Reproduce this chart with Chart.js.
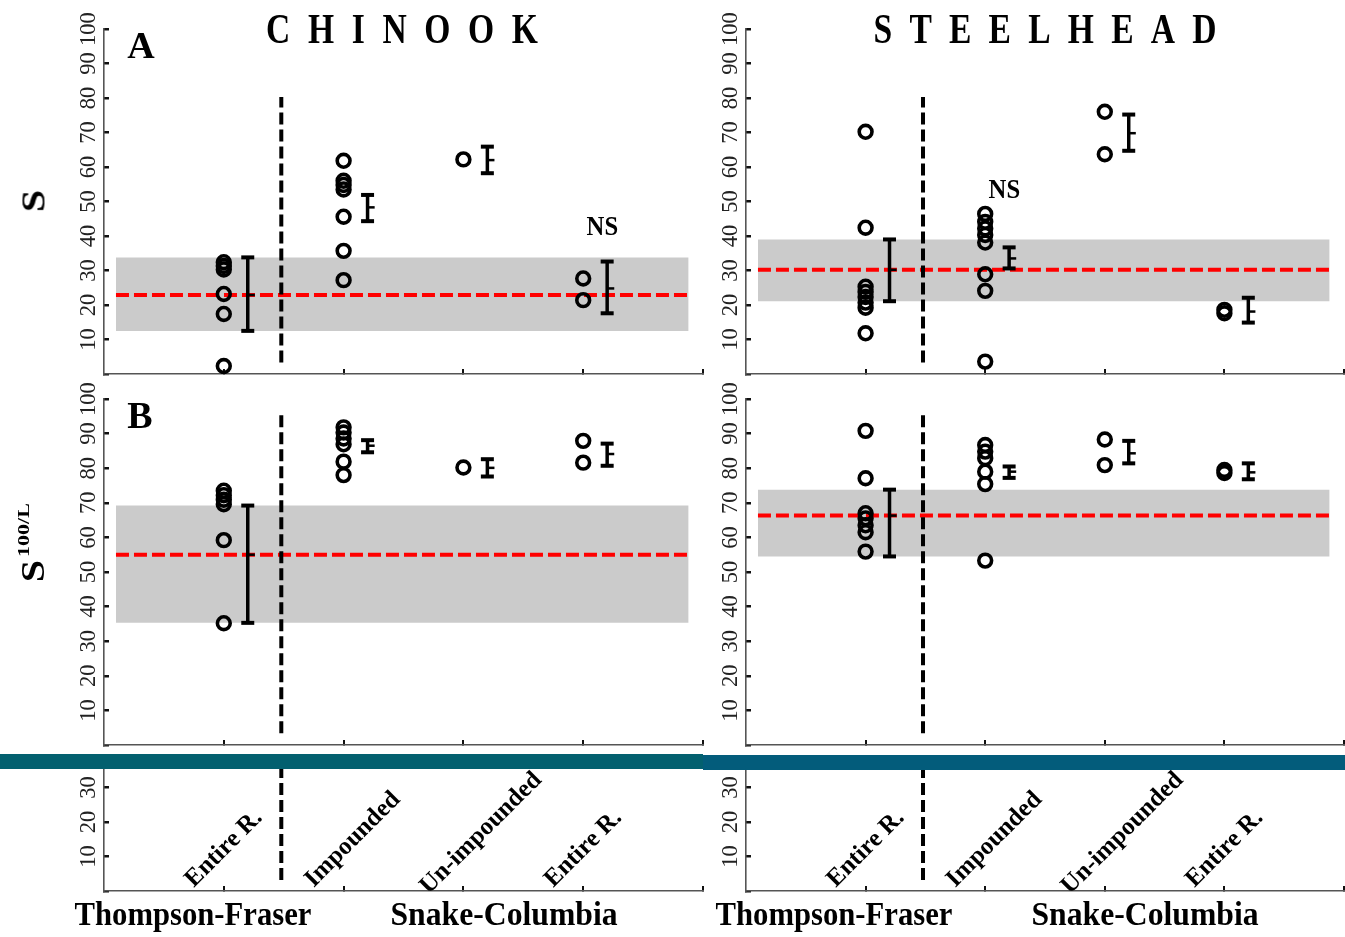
<!DOCTYPE html>
<html>
<head>
<meta charset="utf-8">
<script src="https://cdn.jsdelivr.net/npm/chart.js@4.4.1/dist/chart.umd.min.js"></script>
<style>
  body { margin: 0; background: #fff; }
  #fig { position: relative; width: 1345px; height: 937px; overflow: hidden; background: #fff; }
  #fig canvas { position: absolute; }
  .lbl { position: absolute; white-space: nowrap; line-height: 1; color: #000;
         font-family: "Liberation Serif", "Times New Roman", serif; font-weight: bold; }
  .bar { position: absolute; height: 15px; }
</style>
</head>
<body>
<div id="fig">
  <canvas id="chinookA" width="705" height="378" style="left:0;top:0"></canvas>
  <canvas id="steelheadA" width="640" height="378" style="left:705px;top:0"></canvas>
  <canvas id="chinookB" width="705" height="376" style="left:0;top:378px"></canvas>
  <canvas id="steelheadB" width="640" height="376" style="left:705px;top:378px"></canvas>
  <canvas id="chinookC" width="705" height="168" style="left:0;top:769px"></canvas>
  <canvas id="steelheadC" width="640" height="168" style="left:705px;top:769px"></canvas>
  <div class="bar" style="left:0;top:754px;width:703px;background:#03606f"></div>
  <div class="bar" style="left:703px;top:755px;width:642px;background:#035c7b"></div>
</div>
<script>
// x categories (positions 1..4 on the x axis)
const siteLabels = ['Entire R.', 'Impounded', 'Un-impounded', 'Entire R.'];
const riverGroups = ['Thompson-Fraser', 'Snake-Columbia'];
const yTicksFull = [0, 10, 20, 30, 40, 50, 60, 70, 80, 90, 100];
const yTicksCut = [0, 10, 20, 30];
const siteTicks = [1, 2, 3, 4, 5];

// Panel A : S, chinook
const chinookS = [
  [32.4, 31.3, 30.3, 23.2, 17.4, 2.3],
  [61.8, 56.0, 54.8, 53.5, 45.6, 35.7, 27.2],
  [62.2],
  [27.7, 21.4]
];
const chinookSMean = [22.9, 48.3, 62.0, 24.8];
const chinookSLow  = [12.5, 44.3, 58.2, 17.6];
const chinookSHigh = [33.8, 51.9, 65.9, 32.6];

// Panel A : S, steelhead
const steelheadS = [
  [70.2, 42.4, 25.3, 23.8, 22.3, 20.7, 19.2, 11.8],
  [46.4, 44.1, 42.2, 40.3, 38.1, 28.9, 24.1, 3.6],
  [76.0, 63.7],
  [18.6, 17.6]
];
const steelheadSMean = [30.2, 33.5, 69.8, 18.1];
const steelheadSLow  = [21.1, 30.6, 64.7, 14.9];
const steelheadSHigh = [39.0, 36.7, 75.2, 22.1];

// Panel B : S^100/L, chinook
const chinookS100 = [
  [73.5, 72.2, 70.9, 69.6, 59.2, 35.2],
  [91.8, 90.3, 88.6, 86.9, 81.9, 78.0],
  [80.2],
  [87.9, 81.6]
];
const chinookS100Mean = [55.0, 86.5, 80.1, 84.1];
const chinookS100Low  = [35.3, 84.6, 77.6, 80.7];
const chinookS100High = [69.2, 88.1, 82.6, 87.1];

// Panel B : S^100/L, steelhead
const steelheadS100 = [
  [90.8, 77.1, 67.0, 65.5, 63.5, 61.5, 55.9],
  [86.7, 84.8, 82.9, 79.0, 75.4, 53.3],
  [88.3, 80.9],
  [79.5, 78.6]
];
const steelheadS100Mean = [66.3, 79.0, 84.3, 78.8];
const steelheadS100Low  = [54.5, 77.2, 81.4, 76.8];
const steelheadS100High = [73.8, 80.5, 87.9, 81.4];

// vertical divider between the two rivers (y from, y to)
const dividerA = [3.3, 80.3];
const dividerB = [3.4, 95.5];
const dividerC = [3.2, 96];

const serif = '"Liberation Serif", "Times New Roman", serif';

// where the slanted site names start, relative to their tick
const labelShift = [-0.25, -0.25, -0.29, -0.25];
const labelBase = [0.9, 0.9, -1.1, 0.9];

function siteNotes() {
  return siteLabels.map((s, i) => ({ text: s, x: i + 1 + labelShift[i], y: labelBase[i], size: 25,
    rot: -Math.PI / 4, align: 'left', base: 'alphabetic' }));
}

// text placed in data coordinates, keyed by canvas id
const notes = {
  chinookA: [{ text: 'NS', x: 4.16, y: 42.3, size: 28, sx: 0.88 }],
  steelheadA: [{ text: 'NS', x: 2.16, y: 53.0, size: 28, sx: 0.88 }],
  chinookC: siteNotes(),
  steelheadC: siteNotes()
};

const notePlugin = {
  id: 'notes',
  afterDatasetsDraw(chart) {
    const items = notes[chart.canvas.id];
    if (!items) return;
    const ctx = chart.ctx;
    const xs = chart.scales.x, ys = chart.scales.y;
    items.forEach(n => {
      ctx.save();
      ctx.translate(xs.getPixelForValue(n.x), ys.getPixelForValue(n.y));
      ctx.rotate(n.rot || 0);
      ctx.scale(n.sx || 1, 1);
      ctx.font = 'bold ' + n.size + 'px ' + serif;
      ctx.fillStyle = '#000';
      ctx.textAlign = n.align || 'center';
      ctx.textBaseline = n.base || 'middle';
      ctx.fillText(n.text, 0, 0);
      ctx.restore();
    });
  }
};
Chart.register(notePlugin);

function buildDatasets(vals, mean, low, high, divider) {
  let ds = [];
  if (vals) {
    // grey band and red line = Thompson-Fraser interval and mean
    ds.push({ data: [{ x: 0.1, y: low[0] }, { x: 4.88, y: low[0] }], borderWidth: 0, pointRadius: 0, fill: false, order: 10 });
    ds.push({ data: [{ x: 0.1, y: high[0] }, { x: 4.88, y: high[0] }], borderWidth: 0, pointRadius: 0,
              fill: '-1', backgroundColor: '#cbcbcb', order: 10 });
    ds.push({ data: [{ x: 0.1, y: mean[0] }, { x: 4.88, y: mean[0] }], borderColor: '#ff0000', borderWidth: 4,
              borderDash: [13, 5], pointRadius: 0, order: 8 });
  }
  ds.push({ data: [{ x: 1.48, y: divider[0] }, { x: 1.48, y: divider[1] }], borderColor: '#000', borderWidth: 4,
            borderDash: [12, 5], pointRadius: 0, order: 7 });
  if (vals) {
    vals.forEach(function (arr, i) {
      ds.push({ data: [{ x: i + 1.2, y: low[i] }, { x: i + 1.2, y: high[i] }], borderColor: '#000', borderWidth: 3.5,
                pointStyle: 'line', pointRadius: 6.5, pointBorderWidth: 4, pointBorderColor: '#000', order: 3 });
    });
    ds.push({ data: mean.map((m, i) => ({ x: i + 1.23, y: m })), showLine: false, pointStyle: 'line',
              pointRadius: 3.5, pointBorderWidth: 2.5, pointBorderColor: '#000', order: 2 });
    let pts = [];
    vals.forEach(function (arr, i) {
      arr.forEach(v => pts.push({ x: i + 1, y: v }));
    });
    ds.push({ data: pts, showLine: false, pointStyle: 'circle', pointRadius: 6.4, pointBorderWidth: 3.6,
              pointBorderColor: '#000', pointBackgroundColor: 'rgba(0,0,0,0)', order: 1 });
  }
  return ds;
}

function makePanel(id, p) {
  const canvas = document.getElementById(id);
  const w = canvas.width, h = canvas.height;
  return new Chart(canvas, {
    type: 'line',
    data: { datasets: buildDatasets(p.vals, p.mean, p.low, p.high, p.divider) },
    options: {
      responsive: false,
      animation: false,
      devicePixelRatio: 1,
      events: [],
      layout: { autoPadding: false, padding: { left: 0, top: p.top, right: w - p.right, bottom: h - p.bottom } },
      plugins: { legend: { display: false }, tooltip: { enabled: false } },
      scales: {
        x: {
          type: 'linear', min: 0, max: 5,
          afterBuildTicks: s => { s.ticks = siteTicks.map(v => ({ value: v })); },
          ticks: { display: false },
          grid: { drawOnChartArea: false, tickLength: -5, color: '#111', lineWidth: 2 },
          border: { color: '#555', width: 1.6 },
          afterFit: s => { s.height = 0; s.paddingLeft = 0; s.paddingRight = 0; }
        },
        y: {
          type: 'linear', min: 0, max: p.yMax,
          afterBuildTicks: s => { s.ticks = p.yTicks.map(v => ({ value: v })); },
          ticks: {
            autoSkip: false, minRotation: 90, maxRotation: 90, crossAlign: 'center',
            padding: p.pad, color: '#222', font: { family: serif, size: 22.5 },
            callback: v => (v === 0 ? '' : String(v))
          },
          grid: { drawOnChartArea: false, tickLength: -5, color: '#111', lineWidth: 2.5 },
          border: { color: '#555', width: 1.6 },
          afterFit: s => { s.width = p.left; s.paddingTop = 0; s.paddingBottom = 0; }
        }
      }
    }
  });
}

makePanel('chinookA', { vals: chinookS, mean: chinookSMean, low: chinookSLow, high: chinookSHigh, divider: dividerA,
  left: 104, top: 29, right: 703, bottom: 374, yMax: 100, yTicks: yTicksFull, pad: 3.1 });
makePanel('steelheadA', { vals: steelheadS, mean: steelheadSMean, low: steelheadSLow, high: steelheadSHigh, divider: dividerA,
  left: 41, top: 29, right: 639, bottom: 374, yMax: 100, yTicks: yTicksFull, pad: 3.1 });
makePanel('chinookB', { vals: chinookS100, mean: chinookS100Mean, low: chinookS100Low, high: chinookS100High, divider: dividerB,
  left: 104, top: 21, right: 703, bottom: 367, yMax: 100, yTicks: yTicksFull, pad: 3.1 });
makePanel('steelheadB', { vals: steelheadS100, mean: steelheadS100Mean, low: steelheadS100Low, high: steelheadS100High, divider: dividerB,
  left: 41, top: 21, right: 639, bottom: 367, yMax: 100, yTicks: yTicksFull, pad: 3.1 });
makePanel('chinookC', { divider: dividerC, left: 104, top: 0, right: 703, bottom: 122, yMax: 35.36, yTicks: yTicksCut, pad: 8.75 });
makePanel('steelheadC', { divider: dividerC, left: 41, top: 0, right: 639, bottom: 122, yMax: 35.36, yTicks: yTicksCut, pad: 8.75 });

// figure text: titles, panel letters, axis titles, river names
const figText = [
  { text: 'CHINOOK', cx: 402, cy: 29, size: 42, sx: 0.8, ls: 22 },
  { text: 'STEELHEAD', cx: 1045, cy: 29, size: 42, sx: 0.8, ls: 21.5 },
  { text: 'A', cx: 141, cy: 45, size: 38 },
  { text: 'B', cx: 140, cy: 415, size: 38 },
  { text: 'S', cx: 33, cy: 201, size: 40, rot: -90, sx: 0.85 },
  { text: 'S', cx: 33, cy: 571, size: 40, rot: -90, sx: 0.85 },
  { text: '100/L', cx: 23, cy: 530, size: 22, rot: -90, sx: 0.8 },
  { text: riverGroups[0], cx: 193, cy: 914, size: 33, sx: 0.93 },
  { text: riverGroups[1], cx: 504, cy: 914, size: 33, sx: 0.96 },
  { text: riverGroups[0], cx: 834, cy: 914, size: 33, sx: 0.93 },
  { text: riverGroups[1], cx: 1145, cy: 914, size: 33, sx: 0.96 }
];
const fig = document.getElementById('fig');
figText.forEach(function (t) {
  const d = document.createElement('div');
  d.className = 'lbl';
  d.textContent = t.text;
  d.style.left = t.cx + 'px';
  d.style.top = t.cy + 'px';
  d.style.fontSize = t.size + 'px';
  if (t.ls) { d.style.letterSpacing = t.ls + 'px'; d.style.paddingLeft = t.ls + 'px'; }
  d.style.transform = 'translate(-50%,-50%) scaleX(' + (t.sx || 1) + ') rotate(' + (t.rot || 0) + 'deg)';
  fig.appendChild(d);
});
</script>
</body>
</html>
